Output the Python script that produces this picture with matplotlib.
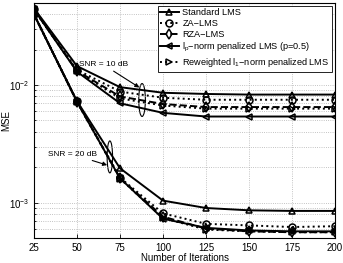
import matplotlib
matplotlib.use("Agg")
import matplotlib.pyplot as plt
from matplotlib.patches import Ellipse

plt.rcParams['font.family'] = ['Liberation Sans', 'DejaVu Sans']
plt.rcParams['mathtext.fontset'] = 'custom'
plt.rcParams['mathtext.rm'] = 'Liberation Sans'
plt.rcParams['mathtext.it'] = 'Liberation Sans'

iterations = [25, 50, 75, 100, 125, 150, 175, 200]

labels = [
    "Standard LMS",
    "ZA\u2212LMS",
    "RZA\u2212LMS",
    "l$_{\\rm p}$\u2212norm penalized LMS (p=0.5)",
    "Reweighted l$_{\\rm 1}$\u2212norm penalized LMS",
]

# SNR = 10 dB
mse_10db = [
    [0.045, 0.0145, 0.0096, 0.0086, 0.0084, 0.0083, 0.0083, 0.0083],
    [0.044, 0.0135, 0.0088, 0.0078, 0.0075, 0.0075, 0.0075, 0.0075],
    [0.044, 0.0132, 0.0080, 0.0069, 0.0065, 0.0065, 0.0065, 0.0065],
    [0.044, 0.0130, 0.0070, 0.0058, 0.0054, 0.0054, 0.0054, 0.0054],
    [0.044, 0.0131, 0.0077, 0.0067, 0.0063, 0.0063, 0.0063, 0.0063],
]

# SNR = 20 dB
mse_20db = [
    [0.040, 0.0073, 0.00196, 0.00104, 0.00090, 0.00086, 0.00085, 0.00085],
    [0.040, 0.0073, 0.00163, 0.00081, 0.00066, 0.00064, 0.00062, 0.00063],
    [0.040, 0.0072, 0.00162, 0.00076, 0.00060, 0.00057, 0.00056, 0.00056],
    [0.040, 0.0072, 0.00161, 0.00073, 0.00061, 0.00058, 0.00057, 0.00057],
    [0.040, 0.0072, 0.00160, 0.00074, 0.00059, 0.00057, 0.00056, 0.00056],
]

styles = ['-', ':', '--', '-', ':']
markers = ['^', 'o', 'd', '<', '>']

fig = plt.figure(figsize=(3.43, 2.63), dpi=100)
ax = fig.add_axes([0.099, 0.095, 0.878, 0.894])

for i in range(5):
    ax.semilogy(iterations, mse_10db[i], color='black', linestyle=styles[i],
                marker=markers[i], markersize=5, markerfacecolor='none',
                markeredgewidth=1.1, linewidth=1.4, label=labels[i])
    ax.semilogy(iterations, mse_20db[i], color='black', linestyle=styles[i],
                marker=markers[i], markersize=5, markerfacecolor='none',
                markeredgewidth=1.1, linewidth=1.4)

ax.set_xlim(25, 200)
ax.set_ylim(5e-4, 5e-2)
ax.set_xticks(iterations)
ax.tick_params(direction='in', which='both', labelsize=7, length=3, width=0.6)
ax.tick_params(which='minor', length=1.5)
ax.grid(True, which='both', linestyle=':', linewidth=0.6, color='#b0b0b0')
for s in ax.spines.values():
    s.set_linewidth(0.8)

ax.set_xlabel("Number of Iterations", fontsize=7, labelpad=0)
ax.set_ylabel("MSE", fontsize=7)
ax.yaxis.set_label_coords(-0.075, 0.5)

# ellipses around groups
ax.add_patch(Ellipse((0.359, 0.587), 0.022, 0.14, transform=ax.transAxes,
                     fill=False, edgecolor='black', linewidth=0.8))
ax.add_patch(Ellipse((0.252, 0.345), 0.018, 0.136, transform=ax.transAxes,
                     fill=False, edgecolor='black', linewidth=0.8))

ax.annotate("SNR = 10 dB", xy=(0.35, 0.64), xytext=(0.15, 0.73),
            xycoords='axes fraction', textcoords='axes fraction', fontsize=6,
            arrowprops=dict(arrowstyle='-|>', color='black', lw=0.8,
                            mutation_scale=6, shrinkA=0, shrinkB=0))
ax.annotate("SNR = 20 dB", xy=(0.243, 0.31), xytext=(0.045, 0.35),
            xycoords='axes fraction', textcoords='axes fraction', fontsize=6,
            arrowprops=dict(arrowstyle='-|>', color='black', lw=0.8,
                            mutation_scale=6, shrinkA=0, shrinkB=0))

leg = ax.legend(loc='upper right', fontsize=6.6, frameon=True, fancybox=False,
                edgecolor='black', framealpha=1, borderaxespad=0.3,
                handlelength=2.0, labelspacing=0.2, borderpad=0.3,
                handletextpad=0.4)
leg.get_frame().set_linewidth(0.6)

fig.savefig("out.png", dpi=100)
